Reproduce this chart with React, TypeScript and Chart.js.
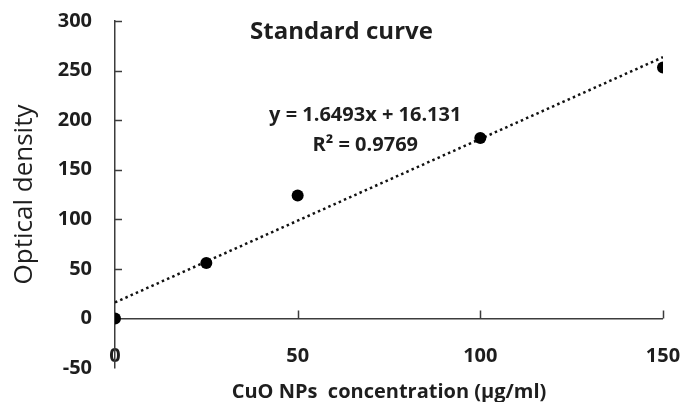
import React, { useEffect, useRef } from "react";
import { Chart, registerables } from "chart.js";

Chart.register(...registerables);

// ---- data ----
const CONCENTRATIONS = [0, 25, 50, 100, 150];
const OPTICAL_DENSITY = [0, 56, 124, 182, 253];
const TREND_SLOPE = 1.6493;
const TREND_INTERCEPT = 16.131;
const TREND_RANGE = [0, 150];
const X_TICKS = [0, 50, 100, 150];
const Y_TICKS = [-50, 0, 50, 100, 150, 200, 250, 300];
const TITLE = "Standard curve";
const EQUATION = "y = 1.6493x + 16.131";
const R2_LABEL = "R\u00B2 = 0.9769";
const X_TITLE = "CuO NPs  concentration (\u00B5g/ml)";
const Y_TITLE = "Optical density";

const FONT = "'Open Sans', Lato, sans-serif";
const TEXT_COLOR = "#1e1e1e";
const AXIS_COLOR = "#3c3c3c";

const annotations = {
  id: "annotations",
  afterDraw(chart: any) {
    const ctx = chart.ctx;
    const xs = chart.scales.x;
    const ys = chart.scales.y;
    ctx.save();
    // inward tick marks
    ctx.strokeStyle = AXIS_COLOR;
    ctx.lineWidth = 1.5;
    ctx.beginPath();
    Y_TICKS.filter((v) => v > 0).forEach((v) => {
      const py = Math.round(ys.getPixelForValue(v)) + 0.5;
      ctx.moveTo(xs.left, py);
      ctx.lineTo(xs.left + 7, py);
    });
    const y0 = ys.getPixelForValue(0);
    X_TICKS.filter((v) => v > 0).forEach((v) => {
      const px = Math.round(xs.getPixelForValue(v)) + 0.5;
      ctx.moveTo(px, y0);
      ctx.lineTo(px, y0 - 8);
    });
    ctx.stroke();

    ctx.fillStyle = TEXT_COLOR;
    ctx.textAlign = "center";
    ctx.textBaseline = "middle";
    ctx.font = `bold 24px ${FONT}`;
    ctx.fillText(TITLE, chart.width / 2, chart.chartArea.top + 11);

    ctx.font = `bold 20px ${FONT}`;
    ctx.fillText(EQUATION, xs.getPixelForValue(68.5), ys.getPixelForValue(205));
    ctx.fillText(R2_LABEL, xs.getPixelForValue(68.5), ys.getPixelForValue(175));
    ctx.restore();
  },
};

export default function App() {
  const canvasRef = useRef<HTMLCanvasElement | null>(null);

  useEffect(() => {
    if (!canvasRef.current) return;
    const chart = new Chart(canvasRef.current, {
      type: "scatter",
      data: {
        datasets: [
          {
            type: "line",
            label: "Trend",
            data: TREND_RANGE.map((x) => ({ x, y: TREND_SLOPE * x + TREND_INTERCEPT })),
            borderColor: "#111",
            borderWidth: 2.5,
            borderDash: [2.5, 3.2],
            pointRadius: 0,
            fill: false,
            order: 2,
          } as any,
          {
            label: "Optical density",
            data: CONCENTRATIONS.map((x, i) => ({ x, y: OPTICAL_DENSITY[i] })),
            backgroundColor: "#000",
            borderColor: "#000",
            pointRadius: 6,
            pointBorderWidth: 0,
            order: 1,
          },
        ],
      },
      options: {
        responsive: false,
        animation: false,
        layout: { padding: { left: 0, right: 20, top: 21, bottom: 0 } },
        plugins: {
          legend: { display: false },
          tooltip: { enabled: false },
        },
        scales: {
          x: {
            type: "linear",
            min: 0,
            max: 150,
            afterBuildTicks: (scale: any) => {
              scale.ticks = X_TICKS.map((value) => ({ value }));
            },
            afterFit: (scale: any) => {
              scale.height = 34;
            },
            grid: { display: false },
            border: { display: false },
            ticks: {
              color: TEXT_COLOR,
              mirror: true,
              padding: 0,
              font: { family: FONT, size: 20, weight: "bold" },
              maxRotation: 0,
            },
            title: {
              display: true,
              text: X_TITLE,
              color: TEXT_COLOR,
              font: { family: FONT, size: 20, weight: "bold", lineHeight: 1 },
              padding: { top: 0, bottom: 0 },
            },
          },
          y: {
            type: "linear",
            min: -50,
            max: 300,
            afterBuildTicks: (scale: any) => {
              scale.ticks = Y_TICKS.map((value) => ({ value }));
            },
            afterFit: (scale: any) => {
              scale.width = 115;
            },
            grid: {
              drawTicks: true,
              tickLength: 23,
              tickColor: "rgba(0,0,0,0)",
              lineWidth: 1.5,
              color: (c: any) => (c.tick && c.tick.value === 0 ? AXIS_COLOR : "rgba(0,0,0,0)"),
            },
            border: { display: true, color: AXIS_COLOR, width: 1.5 },
            ticks: {
              color: TEXT_COLOR,
              padding: 0,
              font: { family: FONT, size: 20, weight: "bold" },
            },
            title: {
              display: true,
              text: Y_TITLE,
              color: TEXT_COLOR,
              font: { family: FONT, size: 26, weight: "normal", lineHeight: 1 },
              padding: { top: 12, bottom: 0 },
            },
          },
        },
      } as any,
      plugins: [annotations],
    });
    return () => chart.destroy();
  }, []);

  return (
    <div style={{ position: "absolute", left: 0, top: 0, width: 683, height: 402, background: "#fff" }}>
      <canvas ref={canvasRef} width={683} height={402} />
    </div>
  );
}
